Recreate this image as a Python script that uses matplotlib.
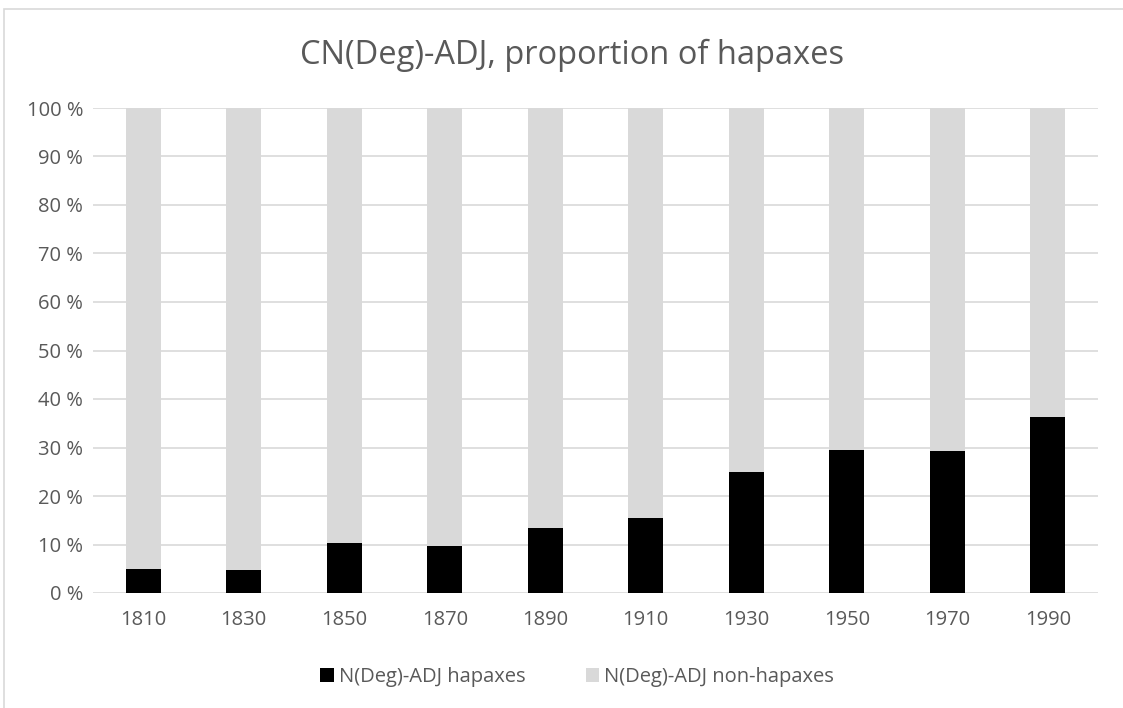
import matplotlib
matplotlib.use("Agg")
import matplotlib.pyplot as plt
from matplotlib.patches import Rectangle
from matplotlib.ticker import FuncFormatter, MultipleLocator

years = ["1810", "1830", "1850", "1870", "1890", "1910", "1930", "1950", "1970", "1990"]
hapaxes = [4.9, 4.8, 10.3, 9.6, 13.4, 15.5, 24.9, 29.4, 29.3, 36.3]
non_hapaxes = [100 - v for v in hapaxes]
series_names = ["N(Deg)-ADJ hapaxes", "N(Deg)-ADJ non-hapaxes"]
title = "CN(Deg)-ADJ, proportion of hapaxes"

plt.rcParams['font.family'] = ['Open Sans', 'DejaVu Sans']
W, H = 1123, 708
fig = plt.figure(figsize=(W / 100, H / 100), dpi=100)
ax = fig.add_axes([93 / W, 1 - 593 / H, (1098 - 93) / W, (593 - 108) / H])

x = list(range(len(years)))
ax.bar(x, hapaxes, width=0.35, color="black", label=series_names[0], zorder=3)
ax.bar(x, non_hapaxes, bottom=hapaxes, width=0.35, color="#d9d9d9", label=series_names[1], zorder=3)

ax.set_xlim(-0.5, len(years) - 0.5)
ax.set_ylim(0, 100)
ax.yaxis.set_major_locator(MultipleLocator(10))
ax.yaxis.set_major_formatter(FuncFormatter(lambda v, p: f"{int(v)} %"))
ax.set_xticks(x)
ax.set_xticklabels(years)
ax.grid(axis="y", color="#d9d9d9", linewidth=1.2, zorder=0)
for s in ax.spines.values():
    s.set_visible(False)
ax.tick_params(axis="both", length=0, colors="#595959", labelsize=14.5)
ax.tick_params(axis="y", pad=7)
ax.tick_params(axis="x", pad=12)

fig.text(572 / W, 1 - 55 / H, title, ha="center", va="center", fontsize=23.5, color="#595959")

leg = fig.legend(loc="center", bbox_to_anchor=(577 / W, 1 - 677 / H), ncol=2, frameon=False,
                 fontsize=14.5, handlelength=0.65, handleheight=0.65, columnspacing=3.0,
                 handletextpad=0.25)
for t in leg.get_texts():
    t.set_color("#595959")

fig.patches.append(Rectangle((4 / W, -0.1), 1.2, 1 - 9 / H + 0.1, transform=fig.transFigure,
                             fill=False, edgecolor="#d9d9d9", linewidth=1.2))

fig.savefig("out.png", dpi=100)
